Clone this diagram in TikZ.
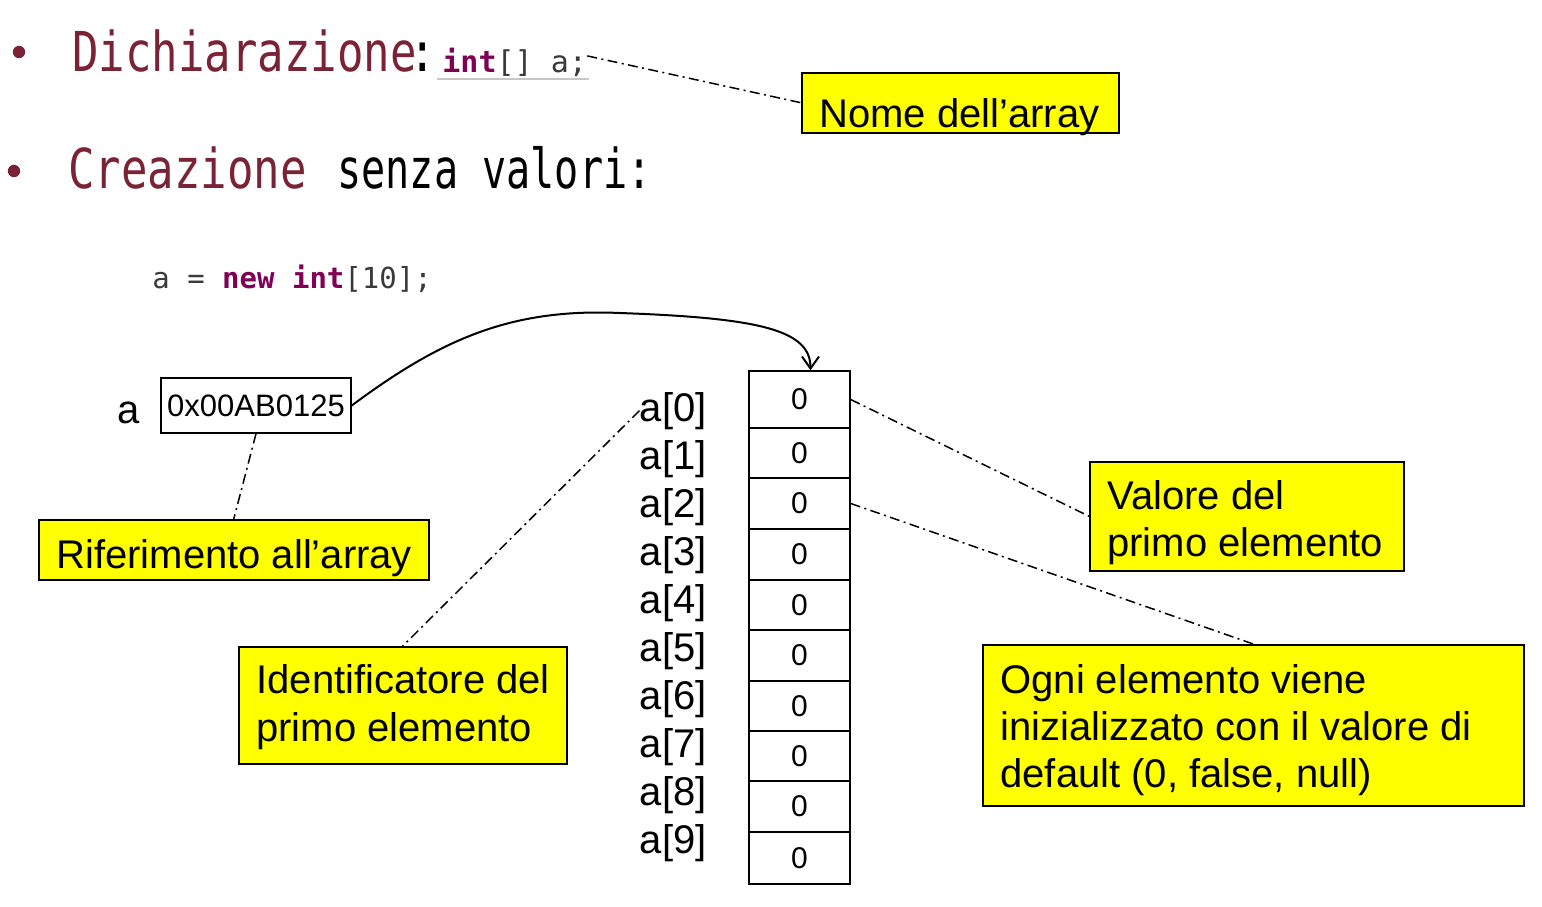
\documentclass[tikz,border=0pt]{standalone}
\usepackage{fontspec}
\setmainfont{Liberation Sans}
\newfontfamily\titlefont[FakeStretch=0.80]{DejaVu Sans Mono}
\newfontfamily\codefont{DejaVu Sans Mono}
\newfontfamily\narrowmono[FakeStretch=0.73]{DejaVu Sans Mono}
\usetikzlibrary{arrows.meta,calc}
\definecolor{titlered}{HTML}{7B2336}
\definecolor{kw}{HTML}{7F0055}
\definecolor{codegray}{HTML}{3A3A3A}
\definecolor{boxyellow}{HTML}{FFFF00}
\begin{document}
\begin{tikzpicture}[x=0.5pt,y=-0.5pt,
  titletext/.style={inner sep=0pt, anchor=base west, font=\titlefont\fontsize{27.5}{33}\selectfont},
  codetext/.style={inner sep=0pt, anchor=base west, text=codegray},
  lbl/.style={inner sep=0pt, font=\fontsize{20}{24}\selectfont},
  ybox/.style={draw=black, fill=boxyellow, line width=0.75pt, inner sep=0pt, anchor=north west},
  cell/.style={draw=black, line width=0.75pt, minimum width=50.5pt, inner sep=0pt, font=\fontsize{15}{18}\selectfont},
  dd/.style={line width=0.75pt, dash pattern=on 5pt off 2.2pt on 1pt off 2.2pt},
  arrowline/.style={line width=1pt, -{Straight Barb[length=6pt,width=8.5pt]}},
  bulletdot/.style={circle, fill=titlered, minimum size=6.2pt, inner sep=0pt}
]
\useasboundingbox (0,0) rectangle (1542,906);

% bullets and titles
\node[bulletdot] (b1) at (19,52) {};
\node[bulletdot] (b2) at (14,171) {};
\node[titletext] (dich) at (72,71) {\textcolor{titlered}{Dichiarazione}\kern-3.5pt:};
\node[titletext] (crea) at (68,188) {\textcolor{titlered}{Creazione}};
\node[inner sep=0pt, anchor=base west, font=\narrowmono\fontsize{27.5}{33}\selectfont] (senza) at (337,188) {senza valori:};

% code
\node[codetext, font=\codefont\fontsize{15}{18}\selectfont] (code1) at (442,72) {{\bfseries\color{kw}int}[] a;};
\draw[gray!45, line width=0.6pt] ($(code1.base west)+(-5,7)$) -- ($(code1.base east)+(2,7)$);
\node[codetext, font=\codefont\fontsize{14.5}{18}\selectfont] (code2) at (152,288) {a = {\bfseries\color{kw}new int}[10];};

% reference variable
\node[inner sep=0pt, anchor=base, font=\fontsize{20}{24}\selectfont] (alab) at (129,423) {a};
\node[draw=black, line width=0.75pt, minimum width=95pt, minimum height=27.5pt, inner sep=0pt, font=\fontsize{15.5}{18}\selectfont] (aref) at (256,405.5) {0x00AB0125};

% array cells
\foreach \i/\t/\b in {0/371/428,1/428/478,2/478/529,3/529/580,4/580/630,5/630/681,6/681/731,7/731/781,8/781/832,9/832/884} {
  \pgfmathsetmacro\h{(\b-\t)/2}
  \pgfmathsetmacro\cy{(\t+\b)/2}
  \node[cell, minimum height=\h pt] (c\i) at (799.5,\cy) {0};
}
% index labels
\foreach \i in {0,...,9} {
  \node[lbl, anchor=base east] (i\i) at (707,{421+48*\i}) {a[\i]};
}

% yellow boxes
\node[ybox, minimum width=158.5pt, minimum height=30pt] (nome) at (801,72) {};
\node[lbl, anchor=base west] (nomet) at (819,127) {Nome dell’array};

\node[ybox, minimum width=195pt, minimum height=30pt] (rif) at (38,519) {};
\node[lbl, anchor=base west] (rift) at (56,568) {Riferimento all’array};

\node[ybox, minimum width=164pt, minimum height=58.5pt] (ident) at (238,646) {};
\node[lbl, anchor=base west] (identa) at (256,693) {Identificatore del};
\node[lbl, anchor=base west] (identb) at (256,741) {primo elemento};

\node[ybox, minimum width=157pt, minimum height=54.5pt] (val) at (1089,461) {};
\node[lbl, anchor=base west] (vala) at (1107,509) {Valore del};
\node[lbl, anchor=base west] (valb) at (1107,556) {primo elemento};

\node[ybox, minimum width=270.5pt, minimum height=80.5pt] (ogni) at (982,644) {};
\node[lbl, anchor=base west] (ognia) at (1000,693) {Ogni elemento viene};
\node[lbl, anchor=base west] (ognib) at (1000,740) {inizializzato con il valore di};
\node[lbl, anchor=base west] (ognic) at (1000,787) {default (0, false, null)};

% connectors
\draw[dd] ([yshift=3pt]code1.east) -- (nome.west);
\draw[dd] (aref.south) -- (rif.north);
\draw[dd] (i0.west) -- (ident.north);
\draw[dd] (c0.east) -- (val.west);
\draw[dd] (c2.east) -- (ogni.north);

\draw[arrowline] (aref.east) .. controls (440,340) and (510,308) .. (620,313)
  .. controls (760,318) and (810.5,330) .. ([xshift=5.5pt]c0.north);
\end{tikzpicture}
\end{document}
